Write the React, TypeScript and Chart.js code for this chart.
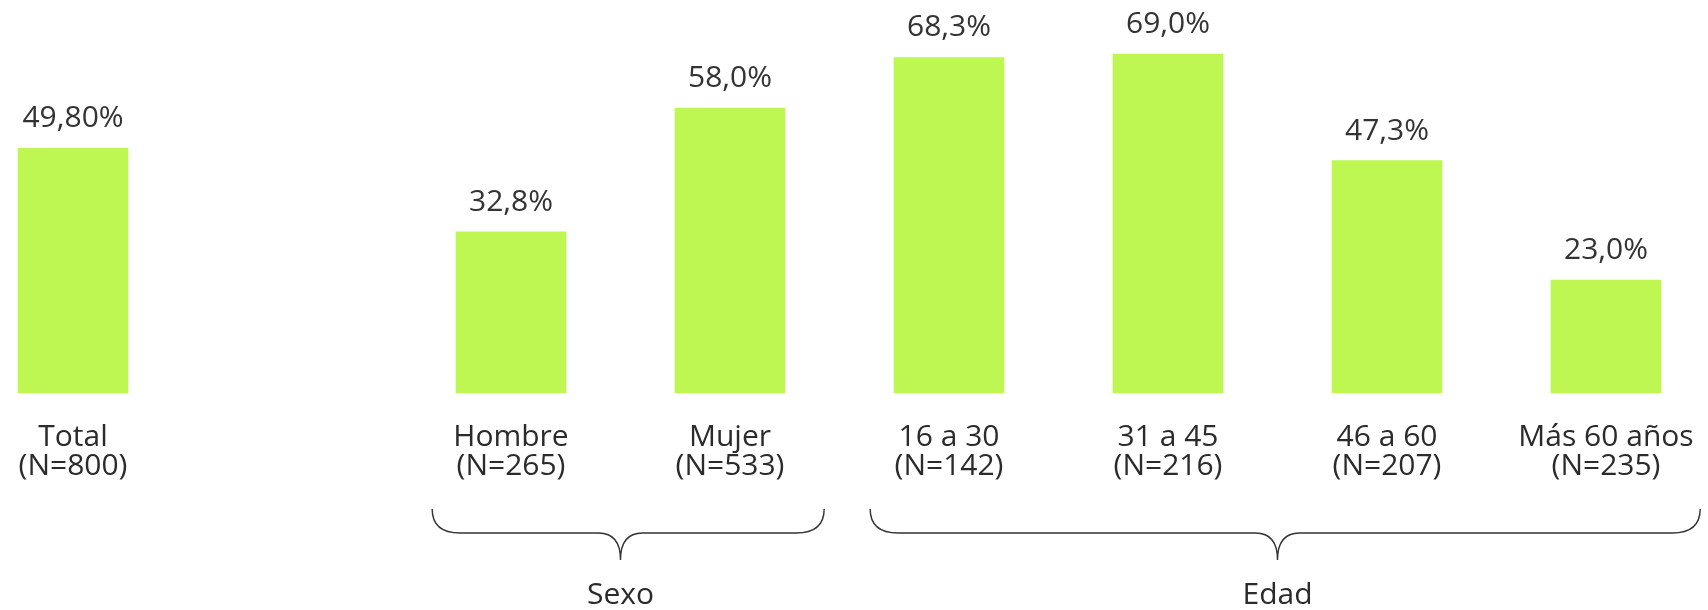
import React, { useEffect, useRef } from "react";
import { Chart, registerables } from "chart.js";

Chart.register(...registerables);

const categories: string[][] = [
  ["Total", "(N=800)"],
  ["", ""],
  ["Hombre", "(N=265)"],
  ["Mujer", "(N=533)"],
  ["16 a 30", "(N=142)"],
  ["31 a 45", "(N=216)"],
  ["46 a 60", "(N=207)"],
  ["Más 60 años", "(N=235)"],
];
const values: (number | null)[] = [49.8, null, 32.8, 58.0, 68.3, 69.0, 47.3, 23.0];
const decimals: number[] = [2, 0, 1, 1, 1, 1, 1, 1];
const groups = [
  { label: "Sexo", from: 2, to: 3 },
  { label: "Edad", from: 4, to: 7 },
];

const FONT = "'Open Sans', Lato, sans-serif";
const TEXT = "#2b2b2b";
const BAR = "#BEF652";

const valueLabelPlugin = {
  id: "valueLabels",
  afterDatasetsDraw(chart: any) {
    const ctx = chart.ctx;
    const meta = chart.getDatasetMeta(0);
    ctx.save();
    ctx.font = `30px ${FONT}`;
    ctx.fillStyle = "#333333";
    ctx.textAlign = "center";
    ctx.textBaseline = "alphabetic";
    meta.data.forEach((bar: any, i: number) => {
      const v = values[i];
      if (v === null || v === undefined) return;
      const txt = v.toFixed(decimals[i]).replace(".", ",") + "%";
      ctx.fillText(txt, bar.x, bar.y - 21);
    });
    ctx.restore();
  },
};

const bracePlugin = {
  id: "braces",
  afterDraw(chart: any) {
    const ctx = chart.ctx;
    const xs = chart.scales.x;
    const bottom = chart.chartArea.bottom;
    const sp = xs.getPixelForValue(1) - xs.getPixelForValue(0);
    const yTop = bottom + 116;
    const yMid = bottom + 140;
    const yTip = bottom + 167;
    ctx.save();
    ctx.strokeStyle = "#333333";
    ctx.lineWidth = 1.4;
    groups.forEach((g) => {
      const c0 = xs.getPixelForValue(g.from);
      const c1 = xs.getPixelForValue(g.to);
      const x0 = c0 - 0.36 * sp;
      const x1 = c1 + 0.43 * sp;
      const xm = (c0 + c1) / 2;
      ctx.beginPath();
      ctx.moveTo(x0, yTop);
      ctx.quadraticCurveTo(x0, yMid, x0 + 28, yMid);
      ctx.lineTo(xm - 22, yMid);
      ctx.quadraticCurveTo(xm, yMid, xm, yTip);
      ctx.quadraticCurveTo(xm, yMid, xm + 22, yMid);
      ctx.lineTo(x1 - 28, yMid);
      ctx.quadraticCurveTo(x1, yMid, x1, yTop);
      ctx.stroke();
      ctx.font = `30px ${FONT}`;
      ctx.fillStyle = TEXT;
      ctx.textAlign = "center";
      ctx.textBaseline = "alphabetic";
      ctx.fillText(g.label, xm, bottom + 211);
    });
    ctx.restore();
  },
};

export default function App() {
  const ref = useRef<HTMLCanvasElement | null>(null);
  useEffect(() => {
    if (!ref.current) return;
    const chart = new Chart(ref.current, {
      type: "bar",
      data: {
        labels: categories,
        datasets: [
          {
            data: values,
            backgroundColor: BAR,
            barThickness: 110,
            clip: false as any,
          },
        ],
      },
      options: {
        animation: false,
        responsive: false,
        layout: { padding: { left: 73, right: 102, top: 0, bottom: 0 } },
        plugins: {
          legend: { display: false },
          tooltip: { enabled: false },
          title: { display: false },
        },
        scales: {
          x: {
            offset: false,
            grid: { display: false, drawTicks: false },
            border: { display: false },
            ticks: {
              autoSkip: false,
              maxRotation: 0,
              padding: 30,
              color: TEXT,
              font: { family: FONT, size: 30, lineHeight: "29px" as any },
            },
            afterFit: (scale: any) => {
              scale.height = 217;
              scale.paddingLeft = 0;
              scale.paddingRight = 0;
            },
          },
          y: {
            display: false,
            min: 0,
            max: 80,
          },
        },
      },
      plugins: [valueLabelPlugin, bracePlugin],
    });
    return () => chart.destroy();
  }, []);
  return (
    <div style={{ position: "absolute", left: 0, top: 0, width: 1708, height: 610, background: "#fff" }}>
      <canvas ref={ref} width={1708} height={610} style={{ display: "block" }} />
    </div>
  );
}
